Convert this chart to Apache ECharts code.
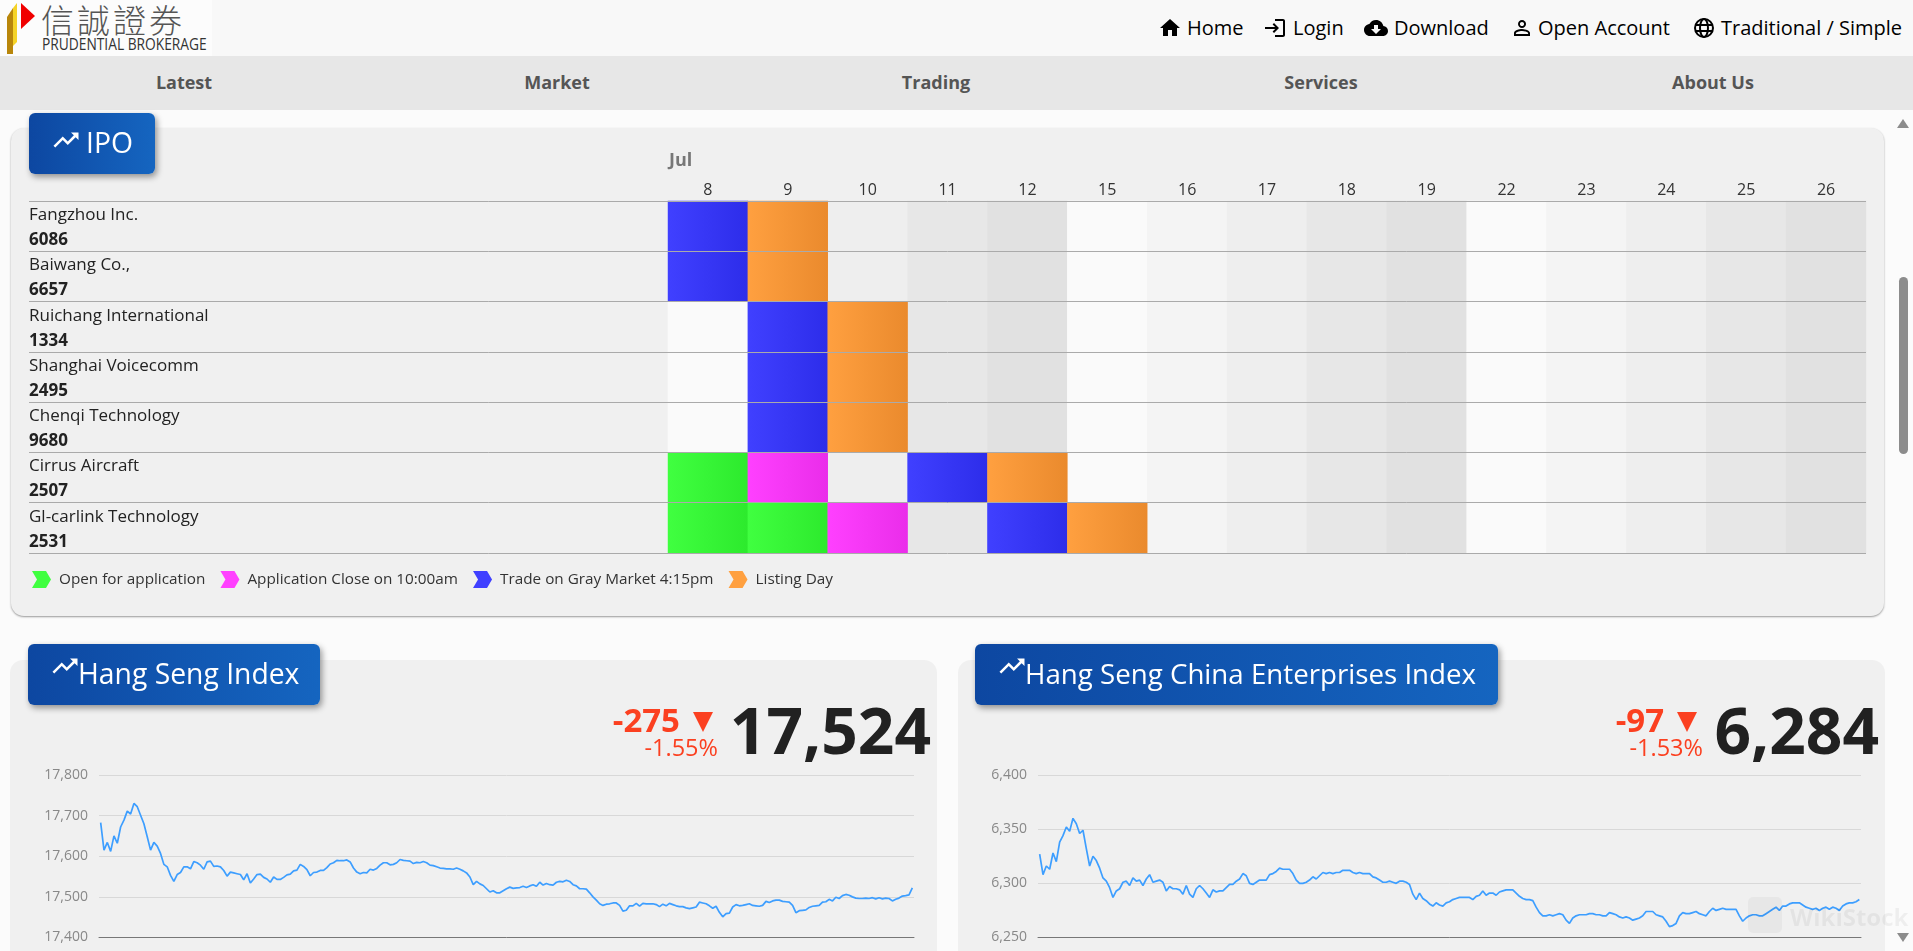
<!DOCTYPE html>
<html>
<head>
<meta charset="utf-8">
<title>Prudential Brokerage</title>
<script src="https://cdn.jsdelivr.net/npm/echarts@6/dist/echarts.min.js"></script>
<style>
    html, body { margin: 0; padding: 0; width: 1913px; height: 951px; overflow: hidden; background: #fbfbfb; font-family: "Open Sans", sans-serif; }
    #chart { position: absolute; left: 0; top: 0; width: 1913px; height: 951px; }
    .abs { position: absolute; white-space: nowrap; }
    .header { left: 0; top: 0; width: 1913px; height: 56px; background: #f8f8f8; }
    .nav { left: 0; top: 56px; width: 1913px; height: 54px; background: #e7e7e7; }
    .navItem { top: 56px; height: 54px; line-height: 52px; font-size: 18px; font-weight: 700; color: #555; transform: translateX(-50%); }
    .topItem { top: 14px; line-height: 28px; font-size: 20px; color: #000; }
    .card { background: #f0f0f0; border-radius: 13px; }
    .title { height: 61px; border-radius: 6px; background: linear-gradient(90deg, #0d47a1, #1565c0); box-shadow: 2px 3px 6px rgba(0, 0, 0, .4); color: #fff; font-size: 28.3px; line-height: 58px; }
    .big { font-size: 64px; font-weight: 700; color: #212121; line-height: 70px; top: 695px; }
    .chg { font-size: 33px; font-weight: 700; color: #fb4020; line-height: 36px; top: 702px; }
    .pct { font-size: 23.5px; color: #fb4020; line-height: 28px; top: 733px; }
    .tri { top: 712px; width: 0; height: 0; border-left: 10.5px solid transparent; border-right: 10.5px solid transparent; border-top: 20px solid #fb4020; }
</style>
</head>
<body>
<div class="abs header"></div>
<div class="abs nav"></div>
<div class="abs" style="left:0;top:0;width:212px;height:56px;background:#fcfcfc"></div>
<svg class="abs" style="left:5px;top:0" width="34" height="56">
    <polygon points="2,17 8,8 8,54 2,54" fill="#b8860b"/>
    <polygon points="8,8 12,3 12,42 8,46" fill="#f5d327"/>
    <polygon points="16,3 30,16 16,29" fill="#f00000"/>
</svg>
<div class="abs" style="left:41px;top:-2px;font:300 33px/42px 'Noto Sans CJK TC';color:#555;letter-spacing:3px">信誠證券</div>
<div class="abs" style="left:42px;top:34px;font:16px/20px 'Open Sans';color:#333;transform:scaleX(.86);transform-origin:left">PRUDENTIAL BROKERAGE</div>

<svg class="abs" style="left:1158px;top:16px" width="24" height="24" viewBox="0 0 24 24"><path d="M10 20v-6h4v6h5v-8h3L12 3 2 12h3v8z"/></svg>
<div class="abs topItem" style="left:1187px">Home</div>
<svg class="abs" style="left:1263px;top:16px" width="24" height="24" viewBox="0 0 24 24"><path d="M11 7L9.6 8.4l2.6 2.6H2v2h10.2l-2.6 2.6L11 17l5-5-5-5zm9 12h-8v2h8c1.1 0 2-.9 2-2V5c0-1.1-.9-2-2-2h-8v2h8v14z"/></svg>
<div class="abs topItem" style="left:1293px">Login</div>
<svg class="abs" style="left:1364px;top:16px" width="24" height="24" viewBox="0 0 24 24"><path d="M19.35 10.04C18.67 6.59 15.64 4 12 4 9.11 4 6.6 5.64 5.35 8.04 2.34 8.36 0 10.91 0 14c0 3.31 2.69 6 6 6h13c2.76 0 5-2.24 5-5 0-2.64-2.05-4.78-4.65-4.96zM17 13l-5 5-5-5h3V9h4v4h3z"/></svg>
<div class="abs topItem" style="left:1394px">Download</div>
<svg class="abs" style="left:1510px;top:16px" width="24" height="24" viewBox="0 0 24 24"><path d="M12 5.9c1.16 0 2.1.94 2.1 2.1s-.94 2.1-2.1 2.1S9.9 9.16 9.9 8s.94-2.1 2.1-2.1m0 9c2.97 0 6.1 1.46 6.1 2.1v1.1H5.9V17c0-.64 3.13-2.1 6.1-2.1M12 4C9.79 4 8 5.79 8 8s1.79 4 4 4 4-1.79 4-4-1.79-4-4-4zm0 9c-2.67 0-8 1.34-8 4v3h16v-3c0-2.66-5.33-4-8-4z"/></svg>
<div class="abs topItem" style="left:1538px">Open Account</div>
<svg class="abs" style="left:1692px;top:16px" width="24" height="24" viewBox="0 0 24 24" fill="none" stroke="#000" stroke-width="2"><circle cx="12" cy="12" r="9"/><ellipse cx="12" cy="12" rx="4" ry="9"/><path d="M3 9h18M3 15h18"/></svg>
<div class="abs topItem" style="left:1721px">Traditional / Simple</div>

<div class="abs navItem" style="left:184px">Latest</div>
<div class="abs navItem" style="left:557px">Market</div>
<div class="abs navItem" style="left:936px">Trading</div>
<div class="abs navItem" style="left:1321px">Services</div>
<div class="abs navItem" style="left:1713px">About Us</div>

<!-- cards -->
<div class="abs card" style="left:11px;top:128px;width:1873px;height:488px;box-shadow:0 1px 2px #999"></div>
<div class="abs card" style="left:10px;top:660px;width:927px;height:320px"></div>
<div class="abs card" style="left:958px;top:660px;width:927px;height:320px"></div>

<!-- scrollbar -->
<svg class="abs" style="left:1895px;top:115px" width="16" height="16"><polygon points="2,13 8,4 14,13" fill="#8c8c8c"/></svg>
<div class="abs" style="left:1899px;top:277px;width:9px;height:177px;border-radius:5px;background:#8c8c8c"></div>
<svg class="abs" style="left:1895px;top:930px" width="16" height="16"><polygon points="2,3 14,3 8,12" fill="#8c8c8c"/></svg>

<div id="chart" class="abs"></div>

<!-- title buttons -->
<div class="abs title" style="left:29px;top:113px;width:126px">
    <svg class="abs" style="left:22px;top:12px" width="30" height="30" viewBox="0 0 24 24" fill="#fff"><path d="M16 6l2.29 2.29-4.88 4.88-4-4L2 16.59 3.41 18l6-6 4 4 6.3-6.29L22 12V6z"/></svg>
    <span class="abs" style="left:57px">IPO</span>
</div>
<div class="abs title" style="left:28px;top:644px;width:292px">
    <svg class="abs" style="left:22px;top:7px" width="30" height="30" viewBox="0 0 24 24" fill="#fff"><path d="M16 6l2.29 2.29-4.88 4.88-4-4L2 16.59 3.41 18l6-6 4 4 6.3-6.29L22 12V6z"/></svg>
    <span class="abs" style="left:50px">Hang Seng Index</span>
</div>
<div class="abs title" style="left:975px;top:644px;width:523px;font-size:27.7px">
    <svg class="abs" style="left:22px;top:7px" width="30" height="30" viewBox="0 0 24 24" fill="#fff"><path d="M16 6l2.29 2.29-4.88 4.88-4-4L2 16.59 3.41 18l6-6 4 4 6.3-6.29L22 12V6z"/></svg>
    <span class="abs" style="left:50px">Hang Seng China Enterprises Index</span>
</div>

<!-- quotes -->
<div class="abs chg" style="right:1233px">-275</div>
<div class="abs tri" style="left:693px"></div>
<div class="abs pct" style="right:1195px">-1.55%</div>
<div class="abs big" style="right:982px">17,524</div>
<div class="abs chg" style="right:249px">-97</div>
<div class="abs tri" style="left:1677px"></div>
<div class="abs pct" style="right:210px">-1.53%</div>
<div class="abs big" style="right:34px">6,284</div>

<!-- watermark -->
<div class="abs" style="left:1748px;top:897px;width:34px;height:36px;border-radius:5px;background:rgba(0,0,0,.035)"></div>
<div class="abs" style="left:1790px;top:902px;font:700 24px/30px 'Open Sans';color:rgba(0,0,0,.05)">WikiStock</div>

<script>
    // IPO timetable
    const months = ['Jul'];
    const days = ['8', '9', '10', '11', '12', '15', '16', '17', '18', '19', '22', '23', '24', '25', '26'];
    const companies = ['Fangzhou Inc.', 'Baiwang Co.,', 'Ruichang International', 'Shanghai Voicecomm', 'Chenqi Technology', 'Cirrus Aircraft', 'Gl-carlink Technology'];
    const codes = ['6086', '6657', '1334', '2495', '9680', '2507', '2531'];
    const stageNames = ['Open for application', 'Application Close on 10:00am', 'Trade on Gray Market 4:15pm', 'Listing Day'];
    // day index of each stage per company, -1 = no such stage
    const openDays = [-1, -1, -1, -1, -1, 0, 0];
    const openDays2 = [-1, -1, -1, -1, -1, -1, 1];
    const closeDays = [-1, -1, -1, -1, -1, 1, 2];
    const grayDays = [0, 0, 1, 1, 1, 3, 4];
    const listingDays = [1, 1, 2, 2, 2, 4, 5];

    // 恒生指数
    const hsiValues = [
        17683, 17615, 17634, 17612, 17650, 17632, 17672, 17689, 17711, 17704, 17730, 17722, 17701, 17680, 17648,
        17615, 17634, 17625, 17607, 17580, 17574, 17553, 17538, 17555, 17560, 17574, 17574, 17569, 17587, 17584,
        17578, 17568, 17586, 17588, 17575, 17576, 17574, 17565, 17551, 17561, 17559, 17557, 17555, 17542, 17557,
        17534, 17544, 17555, 17556, 17548, 17544, 17536, 17549, 17543, 17543, 17548, 17554, 17556, 17564, 17566,
        17580, 17575, 17567, 17552, 17560, 17561, 17565, 17565, 17572, 17581, 17584, 17590, 17589, 17589, 17591,
        17586, 17571, 17561, 17557, 17560, 17559, 17568, 17566, 17570, 17578, 17584, 17584, 17579, 17580, 17584,
        17592, 17590, 17589, 17588, 17582, 17585, 17584, 17587, 17584, 17578, 17577, 17574, 17571, 17570, 17569,
        17569, 17568, 17571, 17568, 17564, 17559, 17549, 17530, 17538, 17532, 17528, 17520, 17512, 17515, 17510,
        17510, 17515, 17520, 17524, 17521, 17522, 17523, 17526, 17523, 17527, 17530, 17526, 17536, 17529, 17533,
        17530, 17529, 17536, 17538, 17537, 17541, 17538, 17530, 17527, 17520, 17520, 17519, 17510, 17500, 17492,
        17483, 17479, 17482, 17483, 17485, 17485, 17479, 17465, 17467, 17478, 17478, 17484, 17477, 17484, 17483,
        17483, 17483, 17481, 17476, 17482, 17478, 17484, 17481, 17478, 17476, 17476, 17473, 17471, 17473, 17475,
        17487, 17485, 17483, 17478, 17472, 17477, 17462, 17451, 17459, 17460, 17475, 17481, 17478, 17479, 17481,
        17483, 17479, 17478, 17477, 17479, 17489, 17486, 17490, 17492, 17492, 17489, 17488, 17487, 17479, 17461,
        17466, 17467, 17468, 17474, 17477, 17478, 17479, 17487, 17488, 17494, 17490, 17499, 17496, 17503, 17506,
        17504, 17500, 17497, 17496, 17496, 17497, 17496, 17498, 17495, 17498, 17495, 17497, 17496, 17490, 17494,
        17497, 17502, 17503, 17505, 17522
    ];
    const hsiTicks = [17400, 17800, 100];

    // 国企指数
    const hsceiValues = [
        6327, 6308, 6316, 6313, 6328, 6320, 6338, 6344, 6352, 6348, 6360, 6355, 6346, 6349, 6332,
        6316, 6325, 6321, 6314, 6305, 6302, 6296, 6287, 6293, 6295, 6301, 6302, 6298, 6305, 6302,
        6303, 6298, 6304, 6308, 6301, 6302, 6303, 6301, 6293, 6297, 6295, 6295, 6294, 6290, 6298,
        6290, 6287, 6295, 6298, 6295, 6291, 6287, 6294, 6292, 6293, 6293, 6296, 6299, 6299, 6302,
        6304, 6309, 6307, 6300, 6299, 6301, 6303, 6303, 6303, 6308, 6309, 6311, 6314, 6313, 6313,
        6313, 6309, 6303, 6300, 6300, 6301, 6303, 6306, 6304, 6307, 6310, 6309, 6310, 6309, 6310,
        6310, 6312, 6312, 6312, 6310, 6309, 6310, 6309, 6309, 6309, 6306, 6305, 6303, 6301, 6301,
        6302, 6301, 6300, 6302, 6302, 6301, 6299, 6290, 6285, 6291, 6286, 6284, 6281, 6279, 6282,
        6280, 6279, 6282, 6283, 6285, 6286, 6287, 6287, 6287, 6287, 6285, 6288, 6289, 6293, 6289,
        6291, 6291, 6289, 6292, 6293, 6294, 6294, 6294, 6291, 6288, 6286, 6285, 6285, 6284, 6278,
        6273, 6270, 6270, 6271, 6270, 6271, 6272, 6271, 6266, 6263, 6268, 6270, 6271, 6271, 6271,
        6272, 6272, 6271, 6271, 6270, 6270, 6273, 6272, 6271, 6269, 6268, 6269, 6268, 6266, 6267,
        6268, 6270, 6274, 6274, 6274, 6271, 6270, 6269, 6265, 6260, 6261, 6263, 6270, 6273, 6272,
        6272, 6273, 6274, 6272, 6271, 6270, 6274, 6277, 6275, 6276, 6277, 6276, 6276, 6276, 6276,
        6270, 6265, 6268, 6270, 6271, 6271, 6270, 6270, 6272, 6274, 6276, 6278, 6275, 6279, 6279,
        6281, 6282, 6282, 6282, 6280, 6278, 6277, 6276, 6277, 6275, 6277, 6278, 6276, 6278, 6277,
        6275, 6279, 6281, 6282, 6282, 6283, 6285
    ];
    const hsceiTicks = [6250, 6400, 50];

    const weekShades = ['#fafafa', '#f4f4f4', '#eeeeee', '#e7e7e7', '#e1e1e1'];
    const stageColors = [['#40ff40', '#2dea2d'], ['#ff40ff', '#ea2dea'], ['#4040ff', '#2d2dea'], ['#ffa040', '#ea8a2d']];
    const chevron = 'path://M0 0H14L19 8.5L14 17H0L5 8.5Z';

    let myChart = echarts.init(document.getElementById('chart'), null, { renderer: 'canvas' });

    // 生成格子
    function cells (dayLists) {
        let list = [];
        dayLists.forEach(days => {
            days.forEach((d, row) => {
                if (d >= 0) {
                    list.push([d, row, 1]);
                }
            });
        });
        return list;
    }

    function stageSeries (name, colors, list) {
        return {
            name: name,
            type: 'heatmap',
            xAxisIndex: 1,
            yAxisIndex: 1,
            z: 3,
            silent: true,
            itemStyle: {
                color: new echarts.graphic.LinearGradient(0, 0, 1, 0, [
                    { offset: 0, color: colors[0] },
                    { offset: 1, color: colors[1] }
                ])
            },
            data: list
        };
    }

    let background = [];
    days.forEach((d, col) => {
        companies.forEach((c, row) => {
            background.push({
                value: [col, row, 0],
                itemStyle: { color: weekShades[col % 5] }
            });
        });
    });

    function indexGrid (gridIndex, ticks) {
        return {
            type: 'value',
            gridIndex: gridIndex,
            min: ticks[0],
            max: ticks[1],
            interval: ticks[2],
            axisLine: { show: false },
            axisTick: { show: false },
            axisLabel: { color: '#888', fontSize: 14, margin: 11, padding: [2, 0, 0, 0], fontFamily: 'Open Sans' },
            splitLine: { lineStyle: { color: '#d8d8d8', width: 1 } }
        };
    }

    function indexAxis (gridIndex, values) {
        return {
            type: 'category',
            gridIndex: gridIndex,
            data: values.map((v, i) => i),
            axisLine: { lineStyle: { color: '#777' } },
            axisTick: { show: false },
            axisLabel: { show: false },
            splitLine: { show: false }
        };
    }

    function indexSeries (xIndex, yIndex, values) {
        return {
            type: 'line',
            xAxisIndex: xIndex,
            yAxisIndex: yIndex,
            data: values,
            showSymbol: false,
            silent: true,
            lineStyle: { color: '#3d9eff', width: 1.7 }
        };
    }

    let option = {
        animation: false,
        textStyle: { fontFamily: 'Open Sans' },
        graphic: [{
            type: 'text',
            left: 669,
            top: 152,
            style: { text: months[0], fontSize: 18, fontWeight: 700, fill: '#777', fontFamily: 'Open Sans' }
        }],
        legend: {
            left: 32,
            top: 571,
            padding: 0,
            itemWidth: 19,
            itemHeight: 17,
            itemGap: 15,
            icon: chevron,
            selectedMode: false,
            data: stageNames.map((n, i) => ({ name: n, itemStyle: { color: stageColors[i][0] } })),
            textStyle: { fontSize: 15.3, color: '#333', fontFamily: 'Open Sans', padding: [0, 0, 0, 3] }
        },
        grid: [
            { left: 29, top: 201, width: 1837, height: 352 },
            { left: 668, top: 201, width: 1198, height: 352 },
            { left: 99, top: 775, width: 815, height: 162.5 },
            { left: 1038, top: 775, width: 823, height: 162.5 }
        ],
        xAxis: [
            { type: 'value', gridIndex: 0, show: false },
            {
                type: 'category',
                gridIndex: 1,
                position: 'top',
                data: days,
                axisLine: { show: false },
                axisTick: { show: false },
                axisLabel: { color: '#333', fontSize: 16, margin: 3, interval: 0, fontFamily: 'Open Sans' }
            },
            indexAxis(2, hsiValues),
            indexAxis(3, hsceiValues)
        ],
        yAxis: [
            {
                type: 'category',
                gridIndex: 0,
                inverse: true,
                z: 5,
                data: companies,
                axisLine: { show: false },
                axisTick: { show: false },
                splitLine: { show: true, interval: 0, lineStyle: { color: '#aaa', width: 1 } },
                axisLabel: {
                    inside: true,
                    margin: 0,
                    interval: 0,
                    padding: [3, 0, 0, 0],
                    formatter: function (value, index) {
                        return '{n|' + value + '}\n{c|' + codes[index] + '}';
                    },
                    rich: {
                        n: { fontSize: 17, color: '#222', lineHeight: 25, fontFamily: 'Open Sans' },
                        c: { fontSize: 17, fontWeight: 700, color: '#222', lineHeight: 25, fontFamily: 'Open Sans' }
                    }
                }
            },
            {
                type: 'category',
                gridIndex: 1,
                inverse: true,
                data: companies,
                axisLine: { show: false },
                axisTick: { show: false },
                axisLabel: { show: false },
                splitLine: { show: false }
            },
            indexGrid(2, hsiTicks),
            indexGrid(3, hsceiTicks)
        ],
        series: [
            {
                name: 'Base',
                type: 'heatmap',
                xAxisIndex: 1,
                yAxisIndex: 1,
                z: 2,
                silent: true,
                data: background
            },
            stageSeries(stageNames[0], stageColors[0], cells([openDays, openDays2])),
            stageSeries(stageNames[1], stageColors[1], cells([closeDays])),
            stageSeries(stageNames[2], stageColors[2], cells([grayDays])),
            stageSeries(stageNames[3], stageColors[3], cells([listingDays])),
            indexSeries(2, 2, hsiValues),
            indexSeries(3, 3, hsceiValues)
        ]
    };

    myChart.setOption(option);
</script>
</body>
</html>
